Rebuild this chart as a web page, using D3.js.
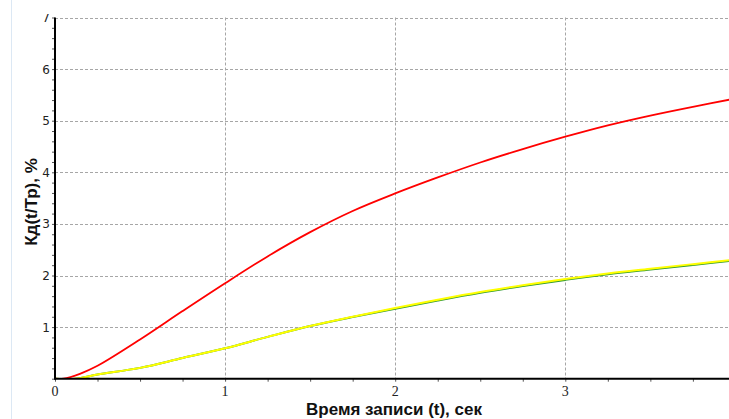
<!DOCTYPE html>
<html><head><meta charset="utf-8">
<script src="https://cdn.jsdelivr.net/npm/d3@7"></script>
<style>html,body{margin:0;padding:0;background:#fff;overflow:hidden}</style>
</head><body>
<script>
const tRed = [0, 0.05, 0.15, 0.25, 0.5, 0.75, 1.0, 1.25, 1.5, 1.75, 2.0, 2.25, 2.5, 2.75, 3.0, 3.25, 3.5, 3.75, 4.0];
const redValues = [0, 0, 0.1, 0.25, 0.76, 1.31, 1.85, 2.37, 2.84, 3.25, 3.59, 3.90, 4.19, 4.45, 4.69, 4.91, 5.10, 5.27, 5.43];
const tLow = [0, 0.12, 0.25, 0.5, 0.75, 1.0, 1.25, 1.5, 1.75, 2.0, 2.25, 2.5, 2.75, 3.0, 3.25, 3.5, 3.75, 4.0];
const yellowValues = [0, 0, 0.08, 0.21, 0.40, 0.59, 0.81, 1.02, 1.20, 1.37, 1.53, 1.68, 1.81, 1.93, 2.04, 2.13, 2.22, 2.31];
const greenValues = [0, 0, 0.08, 0.21, 0.40, 0.59, 0.81, 1.02, 1.195, 1.355, 1.515, 1.665, 1.795, 1.915, 2.025, 2.115, 2.205, 2.295];
const xTicks = [0, 1, 2, 3];
const yTicks = [1, 2, 3, 4, 5, 6, 7];
const xTitle = "Время записи (t), сек";
const yTitle = "Кд(t/Тр), %";

const W = 729, H = 419;
const svg = d3.select("body").append("svg").attr("width", W).attr("height", H);
const x = d3.scaleLinear().domain([0, 4]).range([55, 735.4]);
const y = d3.scaleLinear().domain([0, 7]).range([378.7, 17.5]);

svg.append("line").attr("x1", 11.5).attr("x2", 11.5).attr("y1", 0).attr("y2", H)
  .attr("stroke", "#dce8f4").attr("stroke-width", 1);

const defs = svg.append("defs");
defs.append("clipPath").attr("id", "plotclip").append("rect")
  .attr("x", 55).attr("y", 14).attr("width", W - 55).attr("height", 364);
defs.append("clipPath").attr("id", "topclip").append("rect")
  .attr("x", 0).attr("y", 14).attr("width", W).attr("height", H - 14);

const root = svg.append("g").attr("clip-path", "url(#topclip)");

// grid
const grid = root.append("g");
grid.selectAll("line.h").data(yTicks).join("line")
  .attr("x1", x(0)).attr("x2", W).attr("y1", d => Math.round(y(d)) + 0.5).attr("y2", d => Math.round(y(d)) + 0.5)
  .attr("stroke", "#a6a6a6").attr("stroke-dasharray", "3,2").attr("stroke-width", 1);
grid.selectAll("line.v").data(xTicks.filter(d => d > 0)).join("line")
  .attr("x1", d => Math.round(x(d)) + 0.5).attr("x2", d => Math.round(x(d)) + 0.5).attr("y1", y(7)).attr("y2", y(0))
  .attr("stroke", "#a6a6a6").attr("stroke-dasharray", "3,2").attr("stroke-width", 1);

// lines
const plot = root.append("g").attr("clip-path", "url(#plotclip)");
const line = d3.line().curve(d3.curveCatmullRom.alpha(0.5));
plot.append("path").attr("d", line(tLow.map((t, i) => [x(t), y(greenValues[i])])))
  .attr("fill", "none").attr("stroke", "#2f9a2f").attr("stroke-width", 2);
plot.append("path").attr("d", line(tLow.map((t, i) => [x(t), y(yellowValues[i])])))
  .attr("fill", "none").attr("stroke", "#ffff00").attr("stroke-width", 2);
plot.append("path").attr("d", line(tRed.map((t, i) => [x(t), y(redValues[i])])))
  .attr("fill", "none").attr("stroke", "#ff0000").attr("stroke-width", 1.8);

// axes
const xAxis = d3.axisBottom(x).tickValues(d3.range(0, 4.01, 0.25)).tickSize(3).tickFormat("");
const gx = root.append("g").attr("transform", `translate(0,${y(0)})`).call(xAxis);
gx.select(".domain").remove();
gx.selectAll(".tick line").attr("stroke", "#555");
root.append("line").attr("x1", x(0)).attr("x2", W).attr("y1", y(0)).attr("y2", y(0))
  .attr("stroke", "#000").attr("stroke-width", 2);

const yAxis = d3.axisLeft(y).tickValues(d3.range(0, 7.01, 0.2)).tickSize(3).tickFormat("");
const gy = root.append("g").attr("transform", `translate(${x(0)},0)`).call(yAxis);
gy.select(".domain").remove();
gy.selectAll(".tick line").attr("stroke", "#555");
root.append("line").attr("x1", x(0)).attr("x2", x(0)).attr("y1", y(7)).attr("y2", y(0) + 1)
  .attr("stroke", "#000").attr("stroke-width", 2);

// tick labels
root.selectAll("text.yl").data(yTicks).join("text")
  .attr("x", 50).attr("y", d => y(d) + 4.5).attr("text-anchor", "end")
  .attr("font-family", "'DejaVu Sans', sans-serif").attr("font-size", 12).attr("fill", "#222")
  .text(d => d);
root.selectAll("text.xl").data(xTicks).join("text")
  .attr("x", d => x(d)).attr("y", 396).attr("text-anchor", "middle")
  .attr("font-family", "'Liberation Serif', serif").attr("font-size", 14).attr("fill", "#222")
  .text(d => d);

// titles
svg.append("text").attr("x", 394).attr("y", 415).attr("text-anchor", "middle")
  .attr("font-family", "'Liberation Sans', Arial, sans-serif").attr("font-weight", "bold").attr("font-size", 17)
  .attr("fill", "#111").text(xTitle);
svg.append("text").attr("transform", "translate(37,202) rotate(-90)").attr("text-anchor", "middle")
  .attr("font-family", "'Liberation Sans', Arial, sans-serif").attr("font-weight", "bold").attr("font-size", 17)
  .attr("fill", "#111").text(yTitle);
</script>
</body></html>
